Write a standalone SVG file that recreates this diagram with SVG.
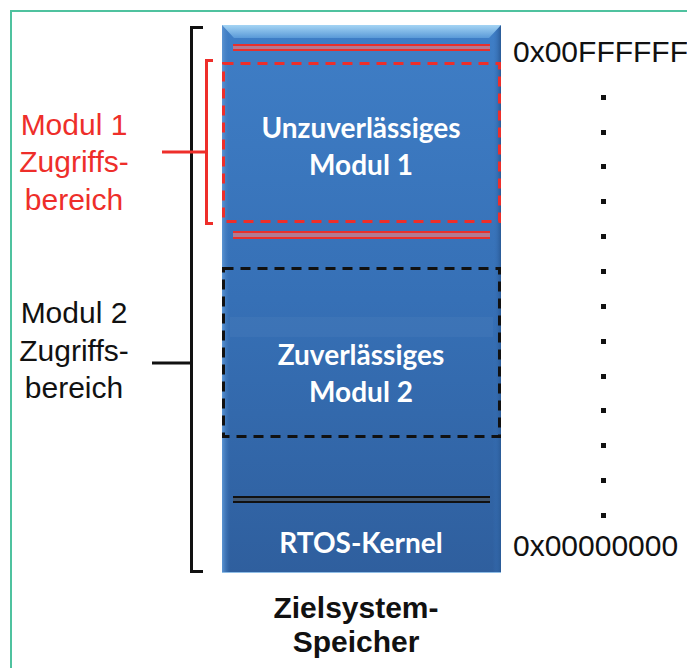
<svg xmlns="http://www.w3.org/2000/svg" width="687" height="668" viewBox="0 0 687 668">
  <defs>
    <linearGradient id="memFill" x1="0" y1="0" x2="0" y2="1">
      <stop offset="0" stop-color="#3f7ec6"/>
      <stop offset="0.5" stop-color="#3670b6"/>
      <stop offset="1" stop-color="#2f5f9e"/>
    </linearGradient>
    <linearGradient id="bevelTop" x1="0" y1="0" x2="0" y2="1">
      <stop offset="0" stop-color="#a4d4f4"/>
      <stop offset="1" stop-color="#5a9ad8"/>
    </linearGradient>
    <linearGradient id="bevelLeft" x1="0" y1="0" x2="1" y2="0">
      <stop offset="0" stop-color="#5d95d2"/>
      <stop offset="1" stop-color="#3a76be" stop-opacity="0"/>
    </linearGradient>
    <linearGradient id="bevelRight" x1="1" y1="0" x2="0" y2="0">
      <stop offset="0" stop-color="#2a5a96"/>
      <stop offset="1" stop-color="#3a76be" stop-opacity="0"/>
    </linearGradient>
  </defs>
  <style>
    .lbl { font-family: "Liberation Sans", Arial, sans-serif; font-size: 30px; text-anchor: middle; }
    .addr { font-family: "Liberation Sans", Arial, sans-serif; font-size: 30px; fill: #111; }
    .mem { font-family: Lato, "Open Sans", sans-serif; font-weight: bold; font-size: 28px; fill: #ffffff; text-anchor: middle; }
    .title { font-family: "Liberation Sans", Arial, sans-serif; font-weight: bold; font-size: 30px; fill: #111; text-anchor: middle; }
    .redline { stroke: #e8302c; stroke-width: 2; }
    .blkline { stroke: #111; stroke-width: 2; }
    .bracket { fill: none; stroke-width: 3; stroke-linejoin: miter; }
  </style>

  <rect x="0" y="0" width="687" height="668" fill="#ffffff"/>
  <!-- outer frame -->
  <rect x="11" y="11" width="700" height="700" fill="none" stroke="#4fc29f" stroke-width="2"/>

  <!-- memory column -->
  <g id="memory">
    <rect x="222" y="25" width="279" height="548" fill="url(#memFill)"/>
    <rect x="222" y="25" width="8" height="548" fill="url(#bevelLeft)"/>
    <rect x="493" y="25" width="8" height="548" fill="url(#bevelRight)"/>
    <polygon points="222,25 501,25 489,38 234,38" fill="url(#bevelTop)"/>
    <rect x="230" y="317" width="263" height="20" fill="#ffffff" opacity="0.04"/>
    <line x1="222" y1="572.5" x2="501" y2="572.5" stroke="#8fbde6" stroke-width="1"/>
  </g>

  <!-- region boundaries -->
  <g id="boundaries">
    <rect x="233" y="45" width="257" height="5" fill="#b27a92"/>
    <line class="redline" x1="233" y1="45" x2="490" y2="45"/>
    <line class="redline" x1="233" y1="50" x2="490" y2="50"/>
    <rect x="233" y="232" width="257" height="6" fill="#b27a92"/>
    <line class="redline" x1="233" y1="232" x2="490" y2="232"/>
    <line class="redline" x1="233" y1="238" x2="490" y2="238"/>
    <rect x="233" y="497" width="257" height="5" fill="#40556e"/>
    <line class="blkline" x1="233" y1="497" x2="490" y2="497"/>
    <line class="blkline" x1="233" y1="502" x2="490" y2="502"/>
  </g>

  <g id="modul1">
    <rect x="223.5" y="63.5" width="276" height="158" fill="none" stroke="#ee2e2a" stroke-width="3" stroke-dasharray="10,7"/>
    <text class="mem" x="361" y="138">Unzuverlässiges</text>
    <text class="mem" x="361" y="175">Modul 1</text>
  </g>

  <g id="modul2">
    <rect x="223.5" y="268.5" width="276" height="168" fill="none" stroke="#111" stroke-width="3" stroke-dasharray="10,7"/>
    <text class="mem" x="361" y="365">Zuverlässiges</text>
    <text class="mem" x="361" y="402">Modul 2</text>
  </g>

  <g id="kernel">
    <text class="mem" x="361" y="553">RTOS-Kernel</text>
  </g>

  <!-- access range brackets -->
  <g id="connectors">
    <polyline class="bracket" stroke="#111" points="203,27.5 191.5,27.5 191.5,571.5 203,571.5"/>
    <line x1="152" y1="363" x2="191" y2="363" stroke="#111" stroke-width="3"/>
    <polyline class="bracket" stroke="#ee2e2a" points="213,60.5 206.5,60.5 206.5,223.5 213,223.5"/>
    <line x1="162" y1="152" x2="206" y2="152" stroke="#ee2e2a" stroke-width="3"/>
  </g>

  <g id="label-modul1">
    <text class="lbl" x="74" y="135" fill="#ee2e2a">Modul 1</text>
    <text class="lbl" x="74" y="172" fill="#ee2e2a">Zugriffs-</text>
    <text class="lbl" x="74" y="210" fill="#ee2e2a">bereich</text>
  </g>

  <g id="label-modul2">
    <text class="lbl" x="74" y="323" fill="#111">Modul 2</text>
    <text class="lbl" x="74" y="361" fill="#111">Zugriffs-</text>
    <text class="lbl" x="74" y="398" fill="#111">bereich</text>
  </g>

  <!-- address axis -->
  <g id="addresses">
    <text class="addr" x="513" y="62">0x00FFFFFF</text>
    <text class="addr" x="513" y="556">0x00000000</text>
    <g fill="#111">
      <rect x="601" y="95" width="5" height="5"/>
      <rect x="601" y="130" width="5" height="5"/>
      <rect x="601" y="164" width="5" height="5"/>
      <rect x="601" y="199" width="5" height="5"/>
      <rect x="601" y="234" width="5" height="5"/>
      <rect x="601" y="269" width="5" height="5"/>
      <rect x="601" y="304" width="5" height="5"/>
      <rect x="601" y="339" width="5" height="5"/>
      <rect x="601" y="374" width="5" height="5"/>
      <rect x="601" y="408" width="5" height="5"/>
      <rect x="601" y="443" width="5" height="5"/>
      <rect x="601" y="478" width="5" height="5"/>
      <rect x="601" y="513" width="5" height="5"/>
    </g>
  </g>

  <g id="title">
    <text class="title" x="356" y="618">Zielsystem-</text>
    <text class="title" x="356" y="652">Speicher</text>
  </g>
</svg>
